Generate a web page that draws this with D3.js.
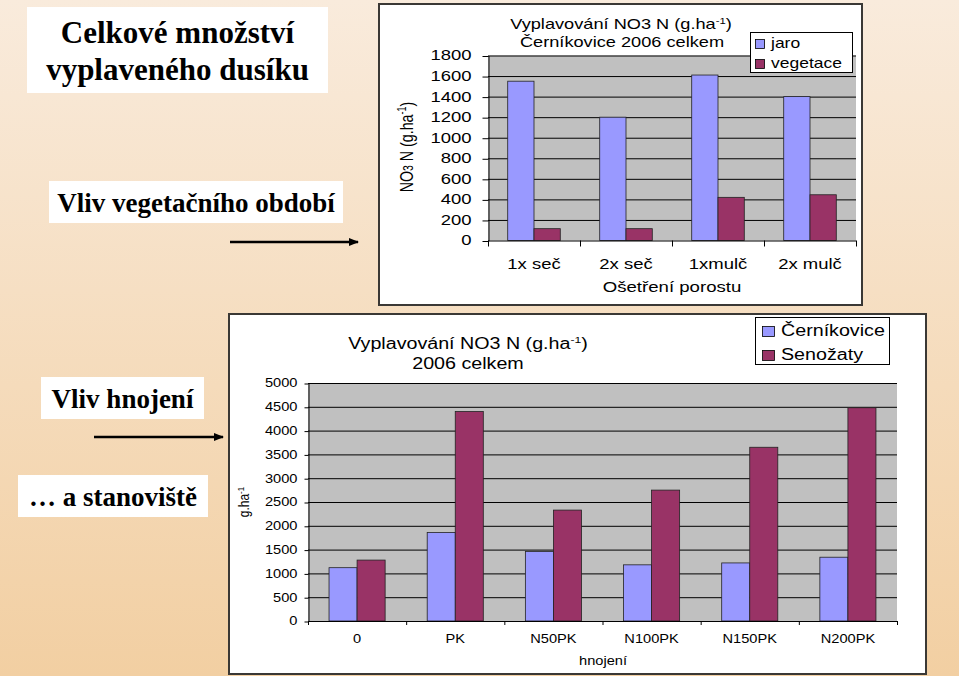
<!DOCTYPE html>
<html><head><meta charset="utf-8">
<script src="https://cdn.jsdelivr.net/npm/d3@7"></script>
<style>body{margin:0;background:#f5dcc0}svg{display:block}</style>
</head><body>
<svg id="c" width="959" height="676"></svg>
<script>
// ---------- data ----------
const topCategories = ["1x seč", "2x seč", "1xmulč", "2x mulč"];
const topJaro = [1550, 1200, 1610, 1400];
const topVegetace = [115, 115, 420, 445];
const topTicks = [0, 200, 400, 600, 800, 1000, 1200, 1400, 1600, 1800];
const topSeries = ["jaro", "vegetace"];

const botCategories = ["0", "PK", "N50PK", "N100PK", "N150PK", "N200PK"];
const botCernikovice = [1120, 1860, 1460, 1180, 1220, 1340];
const botSenozaty = [1280, 4400, 2330, 2750, 3650, 4480];
const botTicks = [0, 500, 1000, 1500, 2000, 2500, 3000, 3500, 4000, 4500, 5000];
const botSeries = ["Černíkovice", "Senožaty"];

const colors = ["#9999FF", "#993366"];

// ---------- setup ----------
const svg = d3.select("#c");
const defs = svg.append("defs");
const grad = defs.append("linearGradient").attr("id", "bg").attr("x1", 0).attr("y1", 0).attr("x2", 0).attr("y2", 1);
grad.append("stop").attr("offset", "0%").attr("stop-color", "#F9EBDC");
grad.append("stop").attr("offset", "100%").attr("stop-color", "#F2CFA2");
svg.append("rect").attr("width", 959).attr("height", 676).attr("fill", "url(#bg)");

const mk = defs.append("marker").attr("id", "arr").attr("viewBox", "0 0 10 10").attr("refX", 9).attr("refY", 5)
  .attr("markerWidth", 4).attr("markerHeight", 4).attr("orient", "auto");
mk.append("path").attr("d", "M0,1 L10,5 L0,9 Z").attr("fill", "#000");

const SANS = "'Liberation Sans', Arial, sans-serif";
const SERIF = "'Liberation Serif', 'Times New Roman', serif";

// stretched text helper
function stext(g, x, y, str, size, sx, anchor, rot, sy) {
  const t = g.append("text")
    .attr("transform", `translate(${x},${y}) scale(${sx},${sy || 1})` + (rot ? " rotate(-90)" : ""))
    .attr("font-family", SANS).attr("font-size", size).attr("fill", "#000")
    .attr("text-anchor", anchor || "start");
  return t;
}
function withSup(t, base, sup, tail, size) {
  t.append("tspan").text(base);
  t.append("tspan").attr("font-size", size * 0.62).attr("dy", -size * 0.38).text(sup);
  t.append("tspan").attr("dy", size * 0.38).text(tail);
}

// ---------- left slide texts ----------
const left = svg.append("g");
function box(x, y, w, h) { left.append("rect").attr("x", x).attr("y", y).attr("width", w).attr("height", h).attr("fill", "#fff"); }
function serif(x, y, str, size) {
  left.append("text").attr("x", x).attr("y", y).attr("text-anchor", "middle")
    .attr("font-family", SERIF).attr("font-weight", "bold").attr("font-size", size).text(str);
}
box(27, 7, 301, 86);
serif(177.5, 43, "Celkové množství", 31);
serif(177.5, 80, "vyplaveného dusíku", 31);
box(49, 181, 294, 42);
serif(196, 212, "Vliv vegetačního období", 27);
box(41, 377, 163, 42);
serif(122.5, 408, "Vliv hnojení", 27);
box(18, 475, 190, 42);
serif(113, 506, "… a stanoviště", 27);
left.append("line").attr("x1", 230).attr("y1", 242).attr("x2", 358).attr("y2", 242)
  .attr("stroke", "#000").attr("stroke-width", 2.5).attr("marker-end", "url(#arr)");
left.append("line").attr("x1", 94).attr("y1", 437).attr("x2", 223).attr("y2", 437)
  .attr("stroke", "#000").attr("stroke-width", 2.5).attr("marker-end", "url(#arr)");

// ---------- generic chart ----------
function chart(cfg) {
  const g = svg.append("g");
  g.append("rect").attr("x", cfg.frame[0]).attr("y", cfg.frame[1]).attr("width", cfg.frame[2]).attr("height", cfg.frame[3])
    .attr("fill", "#fff").attr("stroke", "#3a3835").attr("stroke-width", 2);

  const y = d3.scaleLinear().domain([0, cfg.ticks[cfg.ticks.length - 1]]).range([cfg.y0, cfg.y1]);
  const x = d3.scaleBand().domain(cfg.categories).range([cfg.x0, cfg.x1]).padding(0);
  const bw = x.bandwidth() / 3.5;
  const xs = d3.scaleBand().domain(d3.range(cfg.values.length)).range([0, 2 * bw]).padding(0);
  const off = (x.bandwidth() - 2 * bw) / 2;

  g.append("rect").attr("x", cfg.x0).attr("y", y(cfg.ticks[cfg.ticks.length - 1]))
    .attr("width", cfg.x1 - cfg.x0).attr("height", y(0) - y(cfg.ticks[cfg.ticks.length - 1])).attr("fill", "#C0C0C0");
  g.append("g").selectAll("line").data(cfg.ticks.slice(1)).join("line")
    .attr("x1", cfg.x0).attr("x2", cfg.x1).attr("y1", d => y(d) + 0.5).attr("y2", d => y(d) + 0.5)
    .attr("stroke", "#000").attr("stroke-width", 1);

  cfg.values.forEach((vals, si) => {
    g.append("g").selectAll("rect").data(vals).join("rect")
      .attr("x", (d, i) => x(cfg.categories[i]) + off + xs(si))
      .attr("y", d => y(d))
      .attr("width", xs.bandwidth())
      .attr("height", d => y(0) - y(d))
      .attr("fill", colors[si]).attr("stroke", "#222").attr("stroke-width", 0.8);
  });

  // y axis
  const ya = g.append("g").attr("transform", `translate(${cfg.x0 + 0.5},0)`)
    .call(d3.axisLeft(y).tickValues(cfg.ticks).tickSize(cfg.tick).tickSizeOuter(0).tickFormat(d3.format("d")));
  ya.select(".domain").attr("stroke", "#000");
  ya.selectAll(".tick line").attr("stroke", "#000").attr("transform", "translate(0,0.5)");
  ya.selectAll(".tick text").attr("font-family", SANS).attr("font-size", cfg.tickFont).attr("fill", "#000")
    .attr("x", -cfg.labelGap / cfg.sx).attr("transform", `scale(${cfg.sx},1)`);

  // x axis
  const xa = g.append("g");
  xa.append("line").attr("x1", cfg.x0).attr("x2", cfg.x1).attr("y1", y(0) + 0.5).attr("y2", y(0) + 0.5).attr("stroke", "#000");
  xa.selectAll("line.t").data(cfg.categories.concat(["__end"])).join("line").attr("class", "t")
    .attr("x1", (d, i) => cfg.x0 + i * x.bandwidth() + 0.5).attr("x2", (d, i) => cfg.x0 + i * x.bandwidth() + 0.5)
    .attr("y1", y(0)).attr("y2", y(0) + cfg.tick).attr("stroke", "#000");
  cfg.categories.forEach(c => {
    stext(xa, x(c) + x.bandwidth() / 2, y(0) + cfg.xLabelDy, c, cfg.tickFont, cfg.sx, "middle").text(c);
  });
  return { g, y, x };
}

// ---------- top chart ----------
const t = chart({
  frame: [379, 4, 483, 301], x0: 488, x1: 856, y0: 240.5, y1: 55.5,
  categories: topCategories, values: [topJaro, topVegetace], ticks: topTicks,
  tick: 6, tickFont: 14, sx: 1.32, labelGap: 17, xLabelDy: 28
});
{
  const g = t.g;
  const tt = stext(g, 621, 29, "", 14, 1.3, "middle");
  withSup(tt, "Vyplavování NO3 N (g.ha", "-1", ")", 14);
  stext(g, 622, 47, "", 14, 1.3, "middle").text("Černíkovice 2006 celkem");
  stext(g, 672, 292, "", 14, 1.33, "middle").text("Ošetření porostu");
  const yl = stext(g, 413, 147, "", 15, 1.25, "middle", true, 0.95);
  yl.append("tspan").text("NO");
  yl.append("tspan").attr("font-size", 11).text("3");
  yl.append("tspan").text(" N (g.ha");
  yl.append("tspan").attr("font-size", 9.5).attr("dy", -5.5).text("-1");
  yl.append("tspan").attr("dy", 5.5).text(")");
  // legend
  g.append("rect").attr("x", 750.5).attr("y", 32.5).attr("width", 102).attr("height", 40).attr("fill", "#fff").attr("stroke", "#000");
  topSeries.forEach((s, i) => {
    g.append("rect").attr("x", 755.5).attr("y", 39.5 + i * 20).attr("width", 9).attr("height", 9)
      .attr("fill", colors[i]).attr("stroke", "#000").attr("stroke-width", 0.8);
    stext(g, 771, 48 + i * 20, "", 14, 1.25, "start").text(s);
  });
}

// ---------- bottom chart ----------
const b = chart({
  frame: [229, 314, 697, 360], x0: 308, x1: 897, y0: 621, y1: 383,
  categories: botCategories, values: [botCernikovice, botSenozaty], ticks: botTicks,
  tick: 4, tickFont: 12, sx: 1.22, labelGap: 11, xLabelDy: 22
});
{
  const g = b.g;
  const tt = stext(g, 468, 349, "", 16, 1.23, "middle");
  withSup(tt, "Vyplavování NO3 N (g.ha", "-1", ")", 16);
  stext(g, 468, 369, "", 16, 1.23, "middle").text("2006 celkem");
  stext(g, 603, 665, "", 12, 1.22, "middle").text("hnojení");
  const yl = stext(g, 249, 502, "", 12, 1.22, "middle", true);
  yl.append("tspan").text("g.ha");
  yl.append("tspan").attr("font-size", 8).attr("dy", -4).text("-1");
  // legend
  g.append("rect").attr("x", 755.5).attr("y", 317.5).attr("width", 134).attr("height", 47).attr("fill", "#fff").attr("stroke", "#000");
  botSeries.forEach((s, i) => {
    g.append("rect").attr("x", 762.5).attr("y", 326.5 + i * 24).attr("width", 12).attr("height", 10)
      .attr("fill", colors[i]).attr("stroke", "#000").attr("stroke-width", 0.8);
    stext(g, 781, 336 + i * 24, "", 16, 1.23, "start").text(s);
  });
}
</script>
</body></html>
